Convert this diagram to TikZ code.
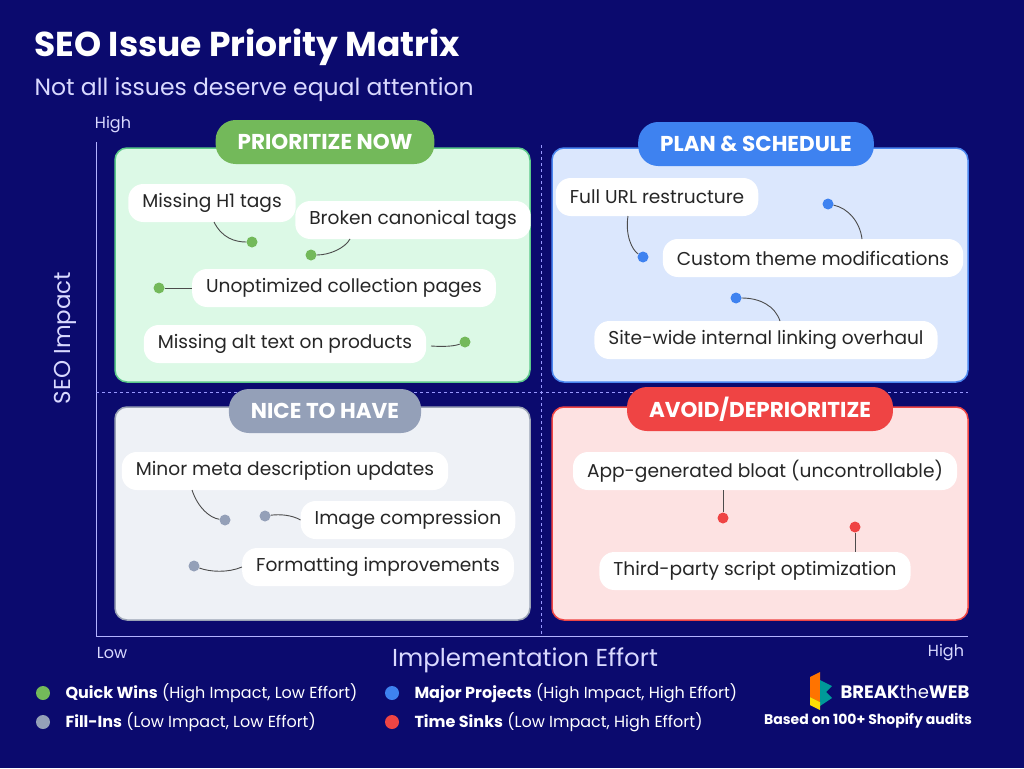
\documentclass[tikz,border=0pt]{standalone}
\usepackage{fontspec}
\setmainfont{Poppins}
\begin{document}
\begin{tikzpicture}[x=1pt,y=-1pt,
 item/.style={fill=white,rounded corners=15pt,minimum height=38pt,inner xsep=14pt,text=black!85,font=\fontsize{18.6}{18.6}\selectfont},
 hdr/.style={rounded corners=20pt,minimum height=44pt,inner xsep=22pt,text=white,font=\fontsize{21.5}{21.5}\selectfont\bfseries},
 quad/.style={rounded corners=12pt,line width=1.5pt},
 dot/.style={circle,inner sep=0pt,minimum size=11pt},
 conn/.style={draw=black!70,line width=0.9pt},
 leg/.style={anchor=west,text=white,font=\fontsize{16}{16}\selectfont},
 ax/.style={text=white!85!blue,font=\fontsize{16}{16}\selectfont}]
\definecolor{bg}{HTML}{0B0A6E}
\definecolor{gq}{HTML}{DCF9E6}\definecolor{gb}{HTML}{5CC98A}\definecolor{gh}{HTML}{73B95A}
\definecolor{bq}{HTML}{DBE7FD}\definecolor{bb}{HTML}{4A86F0}\definecolor{bh}{HTML}{3E82F0}
\definecolor{nq}{HTML}{EEF1F6}\definecolor{nb}{HTML}{9AA3B5}\definecolor{nh}{HTML}{94A0B8}
\definecolor{rq}{HTML}{FDE2E2}\definecolor{rb}{HTML}{EF4444}\definecolor{rh}{HTML}{EF4444}
\fill[bg] (0,0) rectangle (1024,768);
\useasboundingbox (0,0) rectangle (1024,768);
\node[anchor=west,text=white,font=\fontsize{34.5}{34.5}\selectfont\bfseries] (title) at (31,47) {SEO Issue Priority Matrix};
\node[anchor=west,text=white!85!blue,font=\fontsize{23.5}{23.5}\selectfont] (sub) at (31,90) {Not all issues deserve equal attention};
% axes
\draw[white!70!blue,line width=1pt] (96,142) -- (96,636) -- (968,636);
\draw[white!60!blue,dashed,line width=0.8pt] (541,145) -- (541,636);
\draw[white!60!blue,dashed,line width=0.8pt] (96,392) -- (968,392);
\node[ax] (hi) at (113,125) {High};
\node[ax] (lo) at (112,653) {Low};
\node[ax] (hi2) at (946,653) {High};
\node[ax,rotate=90,font=\fontsize{23}{23}\selectfont] (yl) at (65,338) {SEO Impact};
\node[ax,font=\fontsize{24.5}{24.5}\selectfont] (xl) at (525,660) {Implementation Effort};
% quadrants
\draw[quad,fill=gq,draw=gb] (115,148) rectangle (530,382);
\draw[quad,fill=bq,draw=bb] (552,148) rectangle (968,382);
\draw[quad,fill=nq,draw=nb] (115,407) rectangle (530,620);
\draw[quad,fill=rq,draw=rb] (552,407) rectangle (968,620);
\node[hdr,fill=gh] (h1) at (325,142) {PRIORITIZE NOW};
\node[hdr,fill=bh] (h2) at (756,144) {PLAN \& SCHEDULE};
\node[hdr,fill=nh] (h3) at (325,411) {NICE TO HAVE};
\node[hdr,fill=rh] (h4) at (760,409) {AVOID/DEPRIORITIZE};
% Q1
\node[item] (a1) at (212,203) {Missing H1 tags};
\node[item] (a2) at (413,220) {Broken canonical tags};
\node[item] (a3) at (344,288) {Unoptimized collection pages};
\node[item] (a4) at (285,344) {Missing alt text on products};
\node[dot,fill=gh] (d1) at (252,242) {};
\node[dot,fill=gh] (d2) at (311,255) {};
\node[dot,fill=gh] (d3) at (159,288) {};
\node[dot,fill=gh] (d4) at (465,342) {};
\draw[conn] (214,222) .. controls (222,238) and (235,242) .. (d1);
\draw[conn] (d2) .. controls (330,255) and (345,248) .. (350,239);
\draw[conn] (d3) -- (a3);
\draw[conn] (431,346) .. controls (445,347) and (455,346) .. (d4);
% Q2
\node[item] (b1) at (657,197) {Full URL restructure};
\node[item] (b2) at (813,258) {Custom theme modifications};
\node[item] (b3) at (766,340) {Site-wide internal linking overhaul};
\node[dot,fill=bh] (e1) at (643,257) {};
\node[dot,fill=bh] (e2) at (828,204) {};
\node[dot,fill=bh] (e3) at (736,298) {};
\draw[conn] (628,216) .. controls (625,235) and (632,250) .. (e1);
\draw[conn] (e2) .. controls (848,208) and (860,222) .. (862,239);
\draw[conn] (e3) .. controls (760,298) and (775,306) .. (780,321);
% Q3
\node[item] (c1) at (285,471) {Minor meta description updates};
\node[item] (c2) at (408,520) {Image compression};
\node[item] (c3) at (378,567) {Formatting improvements};
\node[dot,fill=nh] (f1) at (225,520) {};
\node[dot,fill=nh] (f2) at (265,516) {};
\node[dot,fill=nh] (f3) at (194,566) {};
\draw[conn] (192,490) .. controls (198,508) and (210,518) .. (f1);
\draw[conn] (f2) .. controls (280,514) and (292,515) .. (c2.west);
\draw[conn] (f3) .. controls (210,572) and (228,573) .. (c3.west);
% Q4
\node[item] (g1) at (765,471) {App-generated bloat (uncontrollable)};
\node[item] (g2) at (755,571) {Third-party script optimization};
\node[dot,fill=rh] (r1) at (723,518) {};
\node[dot,fill=rh] (r2) at (855,527) {};
\draw[conn] (723,490) -- (r1);
\draw[conn] (r2) -- (855,552);
% legend
\node[dot,fill=gh,minimum size=14pt] (l1) at (43,693) {};
\node[dot,fill=nh,minimum size=14pt] (l2) at (43,722) {};
\node[dot,fill=bh,minimum size=14pt] (l3) at (392,693) {};
\node[dot,fill=rh,minimum size=14pt] (l4) at (392,722) {};
\node[leg] (t1) at (62,693) {\textbf{Quick Wins} (High Impact, Low Effort)};
\node[leg] (t2) at (62,722) {\textbf{Fill-Ins} (Low Impact, Low Effort)};
\node[leg] (t3) at (411,693) {\textbf{Major Projects} (High Impact, High Effort)};
\node[leg] (t4) at (411,722) {\textbf{Time Sinks} (Low Impact, High Effort)};
% logo
\fill[orange!90!red] (810,677) -- (820,672) -- (820,702) -- (810,697) -- cycle;
\fill[teal!80!cyan] (820,680) -- (832,686) -- (826,692) -- (832,698) -- (820,706) -- cycle;
\fill[yellow!80!orange] (810,697) -- (820,702) -- (820,710) -- (810,705) -- cycle;
\node[anchor=west,text=white,font=\fontsize{18}{18}\selectfont] (logo) at (837,692) {\textbf{BREAK}the\textbf{WEB}};
\node[text=white,font=\fontsize{14}{14}\selectfont\bfseries] (based) at (868,721) {Based on 100+ Shopify audits};
\end{tikzpicture}
\end{document}
